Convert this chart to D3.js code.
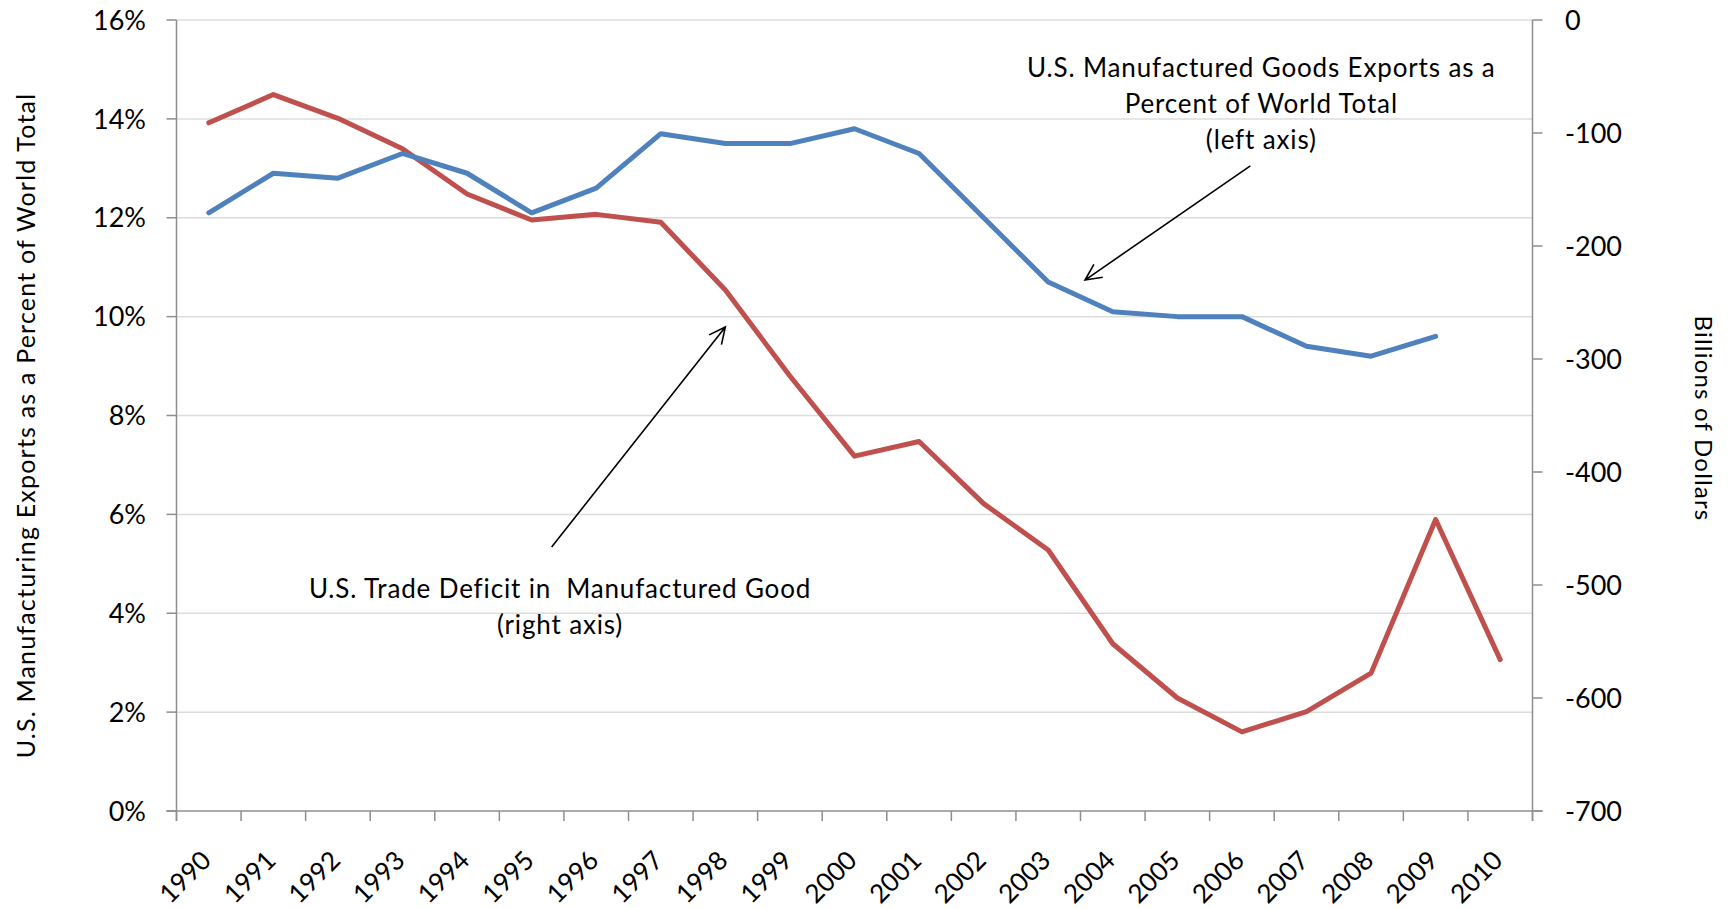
<!DOCTYPE html>
<html>
<head>
<meta charset="utf-8">
<script src="https://cdn.jsdelivr.net/npm/d3@7"></script>
<style>
  body { margin: 0; background: #fff; }
  text { font-family: Lato, "Open Sans", sans-serif; fill: #000; }
</style>
</head>
<body>
<svg id="chart" width="1733" height="909"></svg>
<script>
// data
const years = d3.range(1990, 2011).map(String);
const exportShare = [12.1, 12.9, 12.8, 13.3, 12.9, 12.1, 12.6, 13.7, 13.5, 13.5, 13.8, 13.3, 12.0, 10.7, 10.1, 10.0, 10.0, 9.4, 9.2, 9.6, null];
const tradeDeficit = [-91, -66, -87, -114, -154, -177, -172, -179, -239, -315, -386, -373, -428, -469, -552, -600, -630, -612, -578, -442, -566];
const leftTicks = [0, 2, 4, 6, 8, 10, 12, 14, 16];
const rightTicks = [0, -100, -200, -300, -400, -500, -600, -700];

const svg = d3.select("#chart");
const m = {left: 176.5, right: 1532.5, top: 20, bottom: 811};

const x = d3.scaleBand().domain(years).range([m.left, m.right]);
const yL = d3.scaleLinear().domain([0, 16]).range([m.bottom, m.top]);
const yR = d3.scaleLinear().domain([-700, 0]).range([m.bottom, m.top]);
const cx = d => x(d) + x.bandwidth() / 2;
// fractional position along the category axis, used by the annotations
const xf = i => m.left + i * x.step();

const axisColor = "#8e8e8e";

// gridlines
svg.append("g").selectAll("line").data(leftTicks.slice(1)).join("line")
  .attr("x1", m.left).attr("x2", m.right)
  .attr("y1", d => yL(d)).attr("y2", d => yL(d))
  .attr("stroke", "#dcdcdc").attr("stroke-width", 1.5);

// left axis
const gl = svg.append("g");
gl.append("line").attr("x1", m.left).attr("x2", m.left).attr("y1", m.top).attr("y2", m.bottom + 10)
  .attr("stroke", axisColor).attr("stroke-width", 1.5);
gl.selectAll(".tk").data(leftTicks).join("line")
  .attr("x1", m.left - 10).attr("x2", m.left)
  .attr("y1", d => yL(d)).attr("y2", d => yL(d))
  .attr("stroke", axisColor).attr("stroke-width", 1.5);
gl.selectAll("text").data(leftTicks).join("text")
  .attr("x", 146).attr("y", d => yL(d)).attr("dy", "0.36em")
  .attr("text-anchor", "end").attr("font-size", 27)
  .text(d => d + "%");

// right axis
const gr = svg.append("g");
gr.append("line").attr("x1", m.right).attr("x2", m.right).attr("y1", m.top).attr("y2", m.bottom + 10)
  .attr("stroke", axisColor).attr("stroke-width", 1.5);
gr.selectAll(".tk").data(rightTicks).join("line")
  .attr("x1", m.right).attr("x2", m.right + 10)
  .attr("y1", d => yR(d)).attr("y2", d => yR(d))
  .attr("stroke", axisColor).attr("stroke-width", 1.5);
gr.selectAll("text").data(rightTicks).join("text")
  .attr("x", 1565).attr("y", d => yR(d)).attr("dy", "0.36em")
  .attr("text-anchor", "start").attr("font-size", 27)
  .text(d => String(d));

// bottom axis
const gb = svg.append("g");
gb.append("line").attr("x1", m.left - 10).attr("x2", m.right + 10).attr("y1", m.bottom).attr("y2", m.bottom)
  .attr("stroke", axisColor).attr("stroke-width", 1.5);
gb.selectAll("line.tk").data(d3.range(years.length + 1)).join("line").attr("class", "tk")
  .attr("x1", i => xf(i)).attr("x2", i => xf(i))
  .attr("y1", m.bottom).attr("y2", m.bottom + 10)
  .attr("stroke", axisColor).attr("stroke-width", 1.5);
gb.selectAll("text").data(years).join("text")
  .attr("transform", d => `translate(${cx(d) + 4},${m.bottom + 51}) rotate(-45)`)
  .attr("text-anchor", "end").attr("font-size", 26)
  .text(d => d);

// axis titles
svg.append("text")
  .attr("transform", `translate(35,${(m.top + m.bottom) / 2 + 10}) rotate(-90)`)
  .attr("text-anchor", "middle").attr("font-size", 25).attr("letter-spacing", 1.2)
  .text("U.S. Manufacturing Exports as a Percent of World Total");
svg.append("text")
  .attr("transform", `translate(1695,${(m.top + m.bottom) / 2 + 3}) rotate(90)`)
  .attr("text-anchor", "middle").attr("font-size", 24).attr("letter-spacing", 1.2)
  .text("Billions of Dollars");

// series
const line = d3.line().defined(d => d[1] != null).x(d => cx(d[0]));
svg.append("path")
  .datum(years.map((yr, i) => [yr, tradeDeficit[i]]))
  .attr("d", line.y(d => yR(d[1])))
  .attr("fill", "none").attr("stroke", "#C0504D").attr("stroke-width", 5)
  .attr("stroke-linejoin", "round").attr("stroke-linecap", "round");
svg.append("path")
  .datum(years.map((yr, i) => [yr, exportShare[i]]))
  .attr("d", line.y(d => yL(d[1])))
  .attr("fill", "none").attr("stroke", "#4F81BD").attr("stroke-width", 5)
  .attr("stroke-linejoin", "round").attr("stroke-linecap", "round");

// annotations (positions in category steps and left-axis percent)
const notes = [
  {lines: ["U.S. Manufactured Goods Exports as a", "Percent of World Total", "(left axis)"],
   at: [16.8, 14.85], from: [16.63, 13.05], to: [14.07, 10.74]},
  {lines: ["U.S. Trade Deficit in  Manufactured Good", "(right axis)"],
   at: [5.94, 4.3], from: [5.81, 5.34], to: [8.5, 9.79]}
];

notes.forEach(n => {
  const t = svg.append("text").attr("text-anchor", "middle").attr("font-size", 26)
    .attr("letter-spacing", 0.85).attr("xml:space", "preserve")
    .attr("x", xf(n.at[0])).attr("y", yL(n.at[1]));
  n.lines.forEach((s, i) => t.append("tspan").attr("x", xf(n.at[0])).attr("dy", i ? 36 : 0).text(s));

  const x1 = xf(n.from[0]), y1 = yL(n.from[1]), x2 = xf(n.to[0]), y2 = yL(n.to[1]);
  const a = Math.atan2(y2 - y1, x2 - x1), len = 18, sp = 0.45;
  svg.append("path")
    .attr("d", `M${x1},${y1}L${x2},${y2}` +
      `M${x2 - len * Math.cos(a - sp)},${y2 - len * Math.sin(a - sp)}L${x2},${y2}` +
      `L${x2 - len * Math.cos(a + sp)},${y2 - len * Math.sin(a + sp)}`)
    .attr("fill", "none").attr("stroke", "#000").attr("stroke-width", 1.6);
});
</script>
</body>
</html>
